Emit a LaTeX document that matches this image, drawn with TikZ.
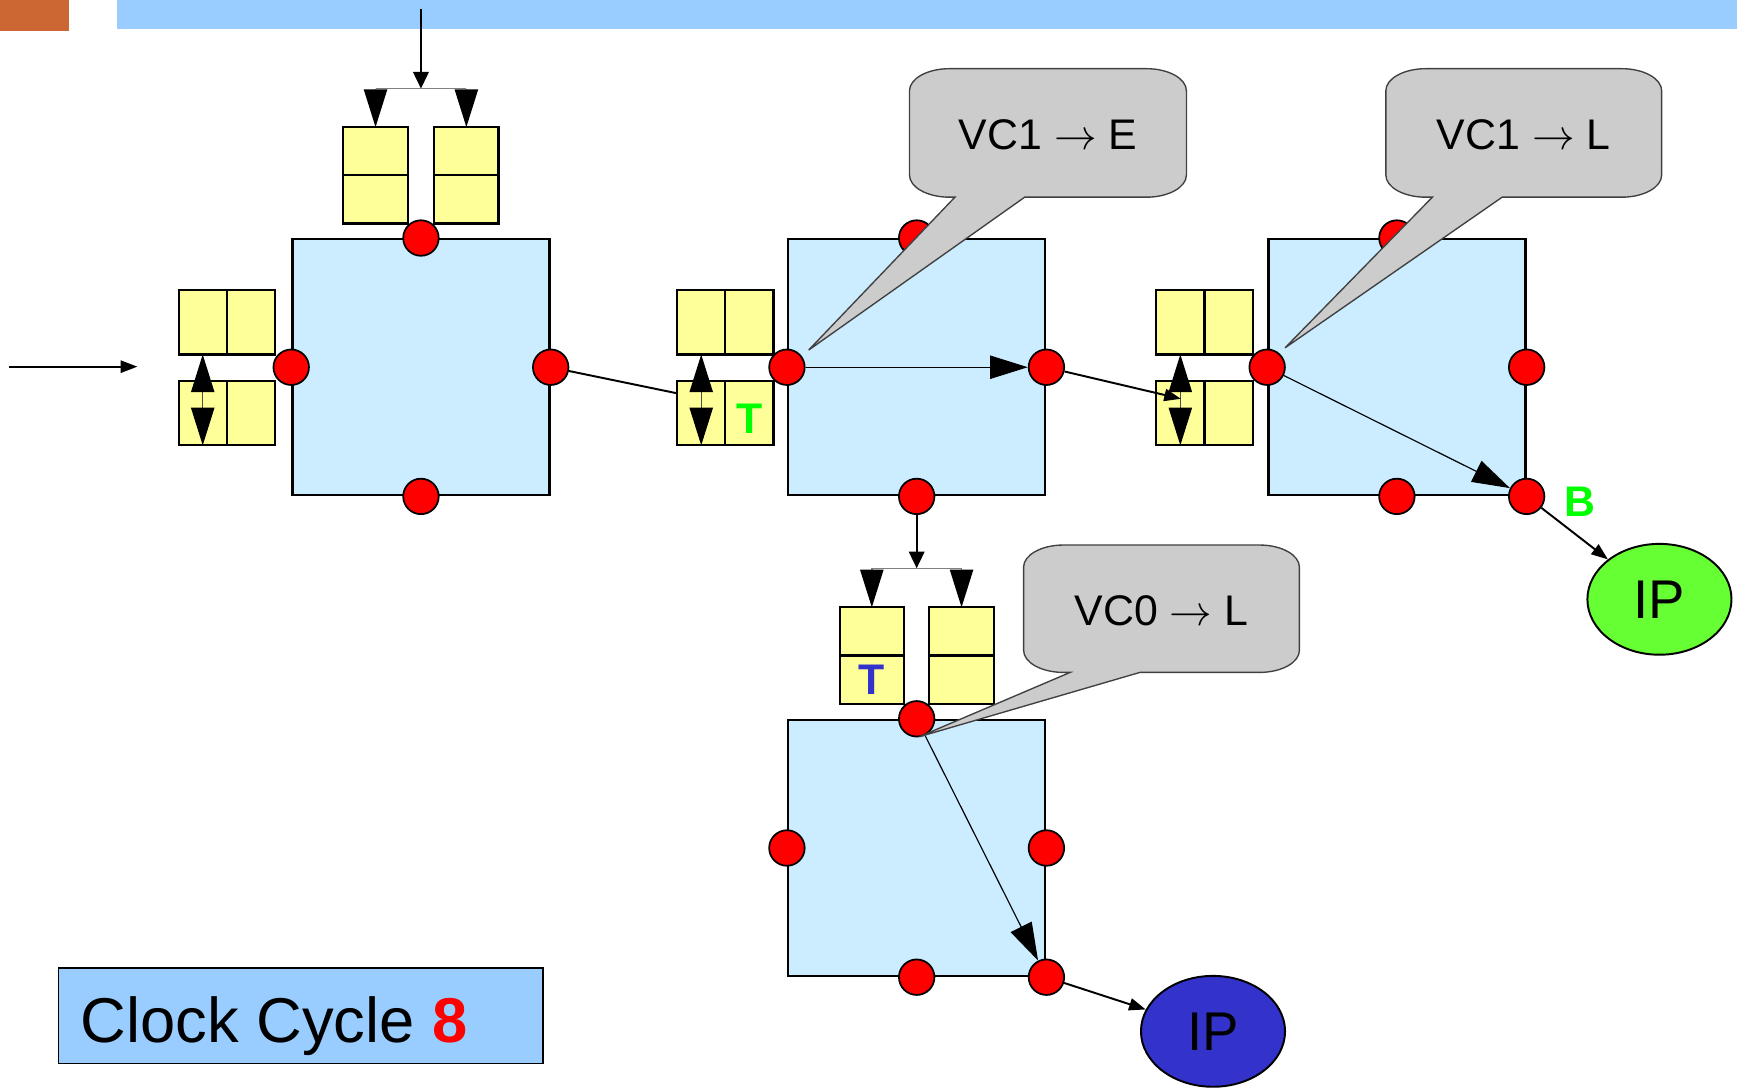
\documentclass[tikz,border=0pt]{standalone}
\usepackage{fontspec}
\setmainfont{Liberation Sans}
\usetikzlibrary{positioning,arrows.meta,shapes.geometric}

\definecolor{routerblue}{HTML}{CCECFF}
\definecolor{bufyellow}{HTML}{FFFF99}
\definecolor{barblue}{HTML}{99CCFF}
\definecolor{barorange}{HTML}{CC6633}
\definecolor{calloutgray}{HTML}{CCCCCC}
\definecolor{calloutedge}{HTML}{404040}
\definecolor{ipgreen}{HTML}{66FF33}
\definecolor{ipblue}{HTML}{3333CC}
\definecolor{flitgreen}{HTML}{00FF00}

\tikzset{
  router/.style={draw, fill=routerblue, line width=0.6pt, minimum width=2.32cm, minimum height=2.31cm, inner sep=0pt},
  port/.style={circle, draw, fill=red, line width=0.45pt, minimum size=0.32cm, inner sep=0pt},
  hcell/.style={draw, fill=bufyellow, line width=0.55pt, outer sep=0pt, inner sep=0pt, minimum width=0.435cm, minimum height=0.58cm},
  vcell/.style={draw, fill=bufyellow, line width=0.55pt, outer sep=0pt, inner sep=0pt, minimum width=0.58cm, minimum height=0.435cm},
  flit/.style={font=\bfseries\fontsize{11}{11}\selectfont},
  link/.style={line width=0.5pt},
  thinlink/.style={line width=0.3pt},
  fork/.style={line width=0.35pt, draw=gray},
  smalltip/.style={-{Triangle[length=1.5mm,width=1.1mm]}},
  midtip/.style={-{Triangle[length=1.5mm,width=1.4mm]}},
  bigtip/.style={-{Triangle[length=3.4mm,width=2.1mm,color=black]}},
  dbltip/.style={{Triangle[length=3.4mm,width=2.1mm,color=black]}-{Triangle[length=3.4mm,width=2.1mm,color=black]}, line width=0.35pt, draw=black!70},
  bubble/.style={draw=calloutedge, fill=calloutgray, line width=0.35pt},
  bubbletext/.style={font=\fontsize{11}{11}\selectfont},
  ipnode/.style={ellipse, draw, line width=0.5pt, minimum width=1.3cm, minimum height=1.0cm, font=\fontsize{14}{14}\selectfont},
}

\begin{document}
\begin{tikzpicture}[x=0.01cm, y=-0.01cm]
  \useasboundingbox (0,0) rectangle (1568,982);
  \fill[barorange] (0,0) rectangle (62,28);
  \fill[barblue] (106,0) rectangle (1568,26);

  % routers
  \node[router] (r1) at (380,331.5) {};
  \node[router] (r2) at (827.5,331.5) {};
  \node[router] (r3) at (1261,331.5) {};
  \node[router] (r4) at (827.5,765.5) {};

  \node[port] (p1n) at (r1.north) {};
  \node[port] (p1w) at (r1.west) {};
  \node[port] (p1e) at (r1.east) {};
  \node[port] (p1s) at (r1.south) {};
  \node[port] (p2n) at (r2.north) {};
  \node[port] (p2w) at (r2.west) {};
  \node[port] (p2e) at (r2.east) {};
  \node[port] (p2s) at (r2.south) {};
  \node[port] (p3n) at (r3.north) {};
  \node[port] (p3w) at (r3.west) {};
  \node[port] (p3e) at (r3.east) {};
  \node[port] (p3s) at (r3.south) {};
  \node[port] (p3se) at (r3.south east) {};
  \node[port] (p4n) at (r4.north) {};
  \node[port] (p4w) at (r4.west) {};
  \node[port] (p4e) at (r4.east) {};
  \node[port] (p4s) at (r4.south) {};
  \node[port] (p4se) at (r4.south east) {};

  % input buffers
  \node[vcell] (r1n1) at (339,136.5) {};
  \node[vcell, below=0pt of r1n1] (r1n2) {};
  \node[vcell] (r1n3) at (421,136.5) {};
  \node[vcell, below=0pt of r1n3] (r1n4) {};
  \node[hcell] (r1w1) at (183,291) {};
  \node[hcell, right=0pt of r1w1] (r1w2) {};
  \node[hcell] (r1w3) at (183,373) {};
  \node[hcell, right=0pt of r1w3] (r1w4) {};
  \node[hcell] (r2w1) at (633,291) {};
  \node[hcell, right=0pt of r2w1] (r2w2) {};
  \node[hcell] (r2w3) at (633,373) {};
  \node[hcell, right=0pt of r2w3, flit, text=flitgreen, text height=3.6mm] (r2w4) {T};
  \node[hcell] (r3w1) at (1065.5,291) {};
  \node[hcell, right=0pt of r3w1] (r3w2) {};
  \node[hcell] (r3w3) at (1065.5,373) {};
  \node[hcell, right=0pt of r3w3] (r3w4) {};
  \node[vcell] (r4n1) at (787,570) {};
  \node[vcell, below=0pt of r4n1, flit, text=ipblue] (r4n2) {T};
  \node[vcell] (r4n3) at (868,570) {};
  \node[vcell, below=0pt of r4n3] (r4n4) {};

  \draw[dbltip] (r1w1.south) -- (r1w3.south);
  \draw[dbltip] (r2w1.south) -- (r2w3.south);
  \draw[dbltip] (r3w1.south) -- (r3w3.south);

  % links
  \coordinate (src) at (8,331);
  \coordinate (srcend) at (124,331);
  \draw[link, smalltip] (src) -- (srcend);
  \coordinate (inj) at (380,8);
  \coordinate (fork1) at (380,80);
  \draw[link, midtip] (inj) -- (fork1);
  \draw[fork] (r1n1.north |- fork1) -- (r1n3.north |- fork1);
  \draw[fork, bigtip] (r1n1.north |- fork1) -- (r1n1.north);
  \draw[fork, bigtip] (r1n3.north |- fork1) -- (r1n3.north);

  \coordinate (r2in) at (611,355);
  \draw[link] (p1e) -- (r2in);
  \draw[thinlink, bigtip] (p2w) -- (p2e);
  \coordinate (r3in) at (1066,360);
  \draw[link, smalltip] (p2e) -- (r3in);
  \draw[thinlink, bigtip] (p3w) -- (p3se);

  \coordinate (fork2) at (827.5,513);
  \draw[link, midtip] (p2s) -- (fork2);
  \draw[fork] (r4n1.north |- fork2) -- (r4n3.north |- fork2);
  \draw[fork, bigtip] (r4n1.north |- fork2) -- (r4n1.north);
  \draw[fork, bigtip] (r4n3.north |- fork2) -- (r4n3.north);
  \draw[thinlink, bigtip] (p4n) -- (p4se);

  \node[ipnode, fill=ipgreen] (ipg) at (1498,541) {IP};
  \node[ipnode, fill=ipblue] (ipb) at (1095,931) {IP};
  \draw[link, smalltip] (p3se) -- (ipg);
  \draw[link, smalltip] (p4se) -- (ipb);
  \node[flit, text=flitgreen] (blk) at (1426,453) {B};

  % callouts
  \filldraw[bubble] (821,82) arc[start angle=180, end angle=270, x radius=36, y radius=20]
    -- (1035,62) arc[start angle=270, end angle=360, x radius=36, y radius=20]
    -- (1071,158) arc[start angle=0, end angle=90, x radius=36, y radius=20]
    -- (925,178) -- (730,316) -- (862,178)
    -- (857,178) arc[start angle=90, end angle=180, x radius=36, y radius=20] -- cycle;
  \node[bubbletext] (vc1) at (946,122) {VC1 $\rightarrow$ E};
  \filldraw[bubble] (1251,82) arc[start angle=180, end angle=270, x radius=36, y radius=20]
    -- (1464,62) arc[start angle=270, end angle=360, x radius=36, y radius=20]
    -- (1500,158) arc[start angle=0, end angle=90, x radius=36, y radius=20]
    -- (1356,178) -- (1160,314) -- (1293,178)
    -- (1287,178) arc[start angle=90, end angle=180, x radius=36, y radius=20] -- cycle;
  \node[bubbletext] (vc2) at (1375.5,122) {VC1 $\rightarrow$ L};
  \filldraw[bubble] (924,512) arc[start angle=180, end angle=270, x radius=36, y radius=20]
    -- (1137,492) arc[start angle=270, end angle=360, x radius=36, y radius=20]
    -- (1173,587) arc[start angle=0, end angle=90, x radius=36, y radius=20]
    -- (1029,607) -- (830,665) -- (966,607)
    -- (960,607) arc[start angle=90, end angle=180, x radius=36, y radius=20] -- cycle;
  \node[bubbletext] (vc3) at (1048.5,551) {VC0 $\rightarrow$ L};

  \node[draw, fill=barblue, line width=0.4pt, minimum width=4.37cm, minimum height=0.86cm] (clock) at (271.5,917) {};
  \node[anchor=base west, inner sep=0pt, font=\fontsize{16.25}{16.25}\selectfont] (clocktext) at (72,941) {Clock Cycle \textcolor{red}{\bfseries 8}};
\end{tikzpicture}
\end{document}
